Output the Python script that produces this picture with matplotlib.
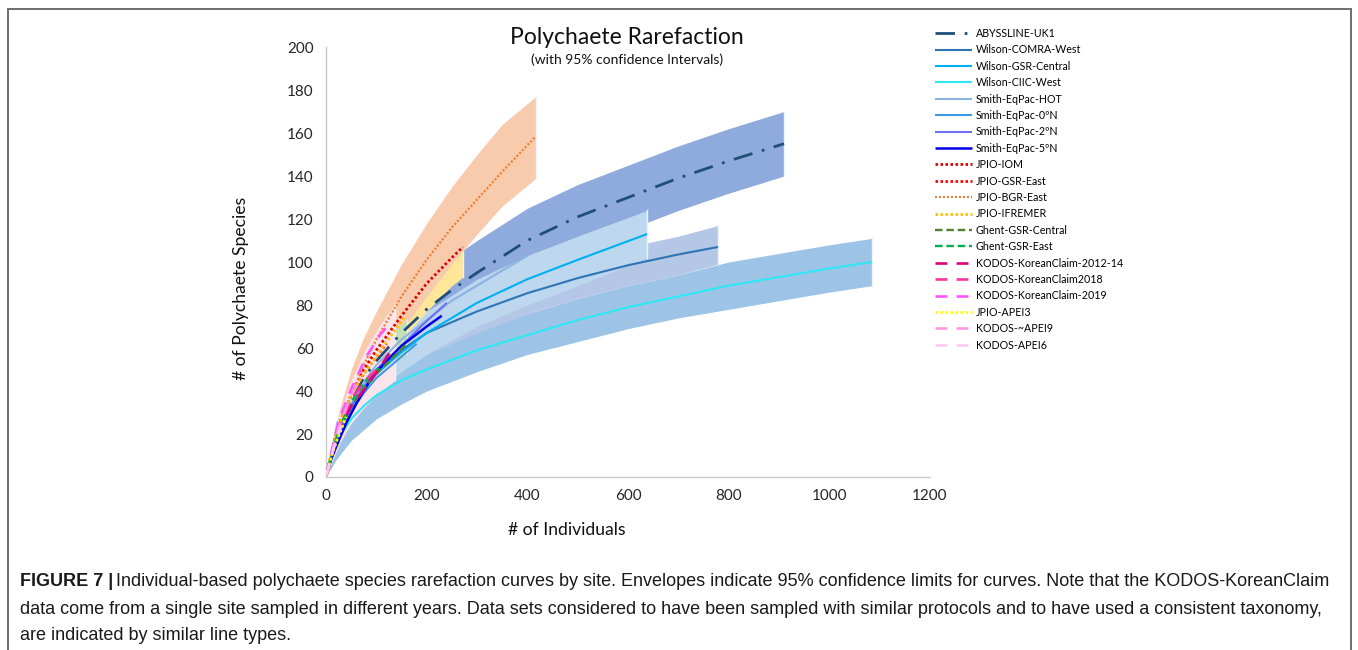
import matplotlib
matplotlib.use("Agg")
import matplotlib.pyplot as plt
from matplotlib.patches import Rectangle

# ---- data (individuals vs expected species) ----
abyss_x = [1, 10, 25, 50, 75, 100, 150, 200, 250, 300, 400, 500, 600, 700, 800, 910]
abyss_y = [1, 9, 21, 35, 46, 54, 67, 78, 87, 95, 110, 121, 130, 139, 147, 155]

comra_x = [1, 10, 25, 50, 75, 100, 150, 200, 300, 400, 500, 600, 700, 779]
comra_y = [1, 9, 20, 32, 41, 48, 59, 67, 77, 85.5, 92.5, 98.5, 103.5, 107]

gsrc_x = [1, 10, 25, 50, 75, 100, 150, 200, 300, 400, 500, 638]
gsrc_y = [1, 9, 20, 32, 41, 48, 58, 67, 81, 92, 101, 113]

ciic_x = [1, 10, 25, 50, 75, 100, 150, 200, 300, 400, 500, 600, 700, 800, 900, 1000, 1085]
ciic_y = [1, 8, 18, 27, 33, 38, 45, 50, 59, 66, 73, 79, 84, 89, 93, 97, 100]

hot_x = [1, 10, 25, 50, 75, 100, 150, 200, 250, 300, 350, 401]
hot_y = [1, 9, 21, 34, 44, 52, 64, 73, 82, 89, 96, 103]

n0_x = [1, 10, 25, 50, 75, 100, 150, 180]
n0_y = [1, 8, 19, 31, 39, 46, 56, 62]

n2_x = [1, 10, 25, 50, 75, 100, 150, 193, 240]
n2_y = [1, 9, 20, 33, 42, 50, 61, 71, 81]

n5_x = [1, 10, 20, 40, 60, 80, 100, 150, 200, 230]
n5_y = [1, 8, 14, 25, 34, 42, 49, 61, 70, 75]

iom_x = [1, 10, 25, 50, 75, 100, 150, 200, 250, 272]
iom_y = [1, 10, 24, 38, 50, 59, 75, 90, 102, 107]

gsre_x = [1, 10, 25, 50, 75, 100, 120]
gsre_y = [1, 10, 24, 38, 48, 56, 62]

bgr_x = [1, 10, 25, 50, 75, 100, 150, 200, 250, 300, 350, 415]
bgr_y = [1, 10, 22, 38, 52, 64, 84, 101, 116, 129, 142, 158]

ifremer_x = [1, 10, 25, 50, 75, 100, 130, 155]
ifremer_y = [1, 10, 24, 38, 48, 56, 66, 74]

ghentc_x = [1, 10, 25, 50, 75, 100, 130, 161]
ghentc_y = [1, 9, 21, 33, 41, 48, 55, 62]

ghente_x = [1, 10, 25, 50, 80, 110]
ghente_y = [1, 9, 22, 35, 45, 52]

kc1214_x = [1, 10, 25, 50, 81, 107, 127]
kc1214_y = [1, 10, 22, 33, 42, 51, 58]

kc2018_x = [1, 10, 25, 50, 75, 100]
kc2018_y = [1, 10, 23, 36, 44, 50]

kc2019_x = [1, 10, 25, 50, 80, 107, 125]
kc2019_y = [1, 11, 26, 41, 56, 66, 71]

apei3_x = [1, 10, 20, 40]
apei3_y = [1, 9, 16, 28]

apei9_x = [1, 10, 25, 45, 60]
apei9_y = [1, 10, 23, 35, 43]

apei6_x = [1, 8, 15, 30]
apei6_y = [1, 7, 13, 24]

# ---- 95% envelopes ----
ciic_env_x = [1, 10, 20, 50, 100, 150, 200, 300, 400, 500, 600, 700, 800, 900, 1000, 1085]
ciic_env_lo = [1, 4, 8, 17, 27, 34, 40, 49, 57, 63, 69, 74, 78, 82, 86, 89]
ciic_env_hi = [1, 14, 26, 37, 49, 56, 61, 69, 76, 83, 89, 94, 100, 104, 108, 111]

comra_env_x = [1, 50, 100, 150, 200, 300, 400, 500, 600, 700, 779]
comra_env_lo = [1, 27, 40, 50, 57, 67, 76, 83, 89, 94, 99]
comra_env_hi = [1, 38, 55, 66, 75, 86, 94, 101, 107, 112, 117]

abyss_env_x = [1, 50, 100, 150, 200, 250, 300, 400, 500, 600, 700, 800, 910]
abyss_env_lo = [1, 28, 44, 56, 65, 74, 81, 95, 106, 115, 124, 132, 140]
abyss_env_hi = [1, 44, 64, 80, 93, 102, 110, 125, 136, 145, 154, 162, 170]

gsrc_env_x = [1, 50, 100, 150, 200, 300, 400, 500, 638]
gsrc_env_lo = [1, 27, 40, 49, 57, 70, 80, 89, 102]
gsrc_env_hi = [1, 38, 56, 67, 77, 92, 103, 112, 124]

iom_env_x = [1, 50, 100, 150, 200, 250, 272]
iom_env_lo = [1, 33, 50, 64, 77, 89, 93]
iom_env_hi = [1, 45, 68, 85, 101, 115, 121]

bgr_env_x = [1, 10, 25, 50, 75, 100, 150, 200, 250, 300, 350, 417]
bgr_env_lo = [0, 6, 15, 28, 40, 50, 68, 84, 99, 113, 126, 139]
bgr_env_hi = [2, 14, 30, 50, 65, 77, 99, 118, 135, 150, 164, 177]

ghent_env_x = [1, 50, 100, 130, 160]
ghent_env_lo = [1, 32, 46, 52, 57]
ghent_env_hi = [1, 42, 60, 67, 73]

kodos_env_x = [1, 25, 50, 75, 100, 137]
kodos_env_lo = [1, 15, 25, 32, 38, 45]
kodos_env_hi = [2, 28, 45, 58, 68, 81]

x_ticks = [0, 200, 400, 600, 800, 1000, 1200]
y_ticks = [0, 20, 40, 60, 80, 100, 120, 140, 160, 180, 200]

CAPTION = [
    "Individual-based polychaete species rarefaction curves by site. Envelopes indicate 95% confidence limits for curves. Note that the KODOS-KoreanClaim",
    "data come from a single site sampled in different years. Data sets considered to have been sampled with similar protocols and to have used a consistent taxonomy,",
    "are indicated by similar line types.",
]

DOT = (0, (0.9, 0.9))
DASH = (0, (3.2, 1.6))
LONG = (0, (4.5, 3.5))
DASHDOT = (0, (7, 3.5, 1, 3.5))

envelopes = [
    (ciic_env_x, ciic_env_lo, ciic_env_hi, "#9dc3e6"),
    (comra_env_x, comra_env_lo, comra_env_hi, "#b4c7e7"),
    (abyss_env_x, abyss_env_lo, abyss_env_hi, "#8faadc"),
    (gsrc_env_x, gsrc_env_lo, gsrc_env_hi, "#bdd7ee"),
    (iom_env_x, iom_env_lo, iom_env_hi, "#ffe699"),
    (bgr_env_x, bgr_env_lo, bgr_env_hi, "#f8cbad"),
    (ghent_env_x, ghent_env_lo, ghent_env_hi, "#c5e0b4"),
    (kodos_env_x, kodos_env_lo, kodos_env_hi, "#fbe4ea"),
]

series = [
    ("ABYSSLINE-UK1", abyss_x, abyss_y, "#1f4e79", DASHDOT, 2.0),
    ("Wilson-COMRA-West", comra_x, comra_y, "#2e75b6", "-", 1.5),
    ("Wilson-GSR-Central", gsrc_x, gsrc_y, "#00b0f0", "-", 1.5),
    ("Wilson-CIIC-West", ciic_x, ciic_y, "#2de8f2", "-", 1.5),
    ("Smith-EqPac-HOT", hot_x, hot_y, "#8db3e2", "-", 1.5),
    ("Smith-EqPac-0ºN", n0_x, n0_y, "#3b9ae8", "-", 1.5),
    ("Smith-EqPac-2ºN", n2_x, n2_y, "#6f6ff0", "-", 1.5),
    ("Smith-EqPac-5ºN", n5_x, n5_y, "#0000e8", "-", 1.8),
    ("JPIO-IOM", iom_x, iom_y, "#e00000", DOT, 2.0),
    ("JPIO-GSR-East", gsre_x, gsre_y, "#ff0000", DOT, 2.0),
    ("JPIO-BGR-East", bgr_x, bgr_y, "#ed7d31", DOT, 1.6),
    ("JPIO-IFREMER", ifremer_x, ifremer_y, "#ffc000", DOT, 2.0),
    ("Ghent-GSR-Central", ghentc_x, ghentc_y, "#548235", DASH, 1.7),
    ("Ghent-GSR-East", ghente_x, ghente_y, "#00b050", DASH, 1.7),
    ("KODOS-KoreanClaim-2012-14", kc1214_x, kc1214_y, "#e0007a", LONG, 1.9),
    ("KODOS-KoreanClaim2018", kc2018_x, kc2018_y, "#ff3399", LONG, 1.9),
    ("KODOS-KoreanClaim-2019", kc2019_x, kc2019_y, "#ff55ff", LONG, 1.9),
    ("JPIO-APEI3", apei3_x, apei3_y, "#ffff00", DOT, 2.0),
    ("KODOS-~APEI9", apei9_x, apei9_y, "#ff99dd", LONG, 1.9),
    ("KODOS-APEI6", apei6_x, apei6_y, "#ffccee", LONG, 1.9),
]

plt.rcParams["font.family"] = ["Lato", "DejaVu Sans"]

fig = plt.figure(figsize=(13.58, 6.5), dpi=100)
ax = fig.add_axes([326 / 1358, 173 / 650, 604 / 1358, 430 / 650])

for ex, lo, hi, col in envelopes:
    ax.fill_between(ex, lo, hi, color=col, lw=0, zorder=1)
    # pale end bar, drawn in the same layer so later envelopes cover it
    ax.plot([ex[-1], ex[-1]], [lo[-1], hi[-1]], color="#eef3fa", lw=1.0, zorder=1)

handles = []
for name, sx, sy, col, ls, lw in series:
    (h,) = ax.plot(sx, sy, color=col, ls=ls, lw=lw, label=name, zorder=3,
                   solid_capstyle="butt", dash_capstyle="butt")
    handles.append(h)

ax.set_xlim(0, 1200)
ax.set_ylim(0, 200)
ax.set_xticks(x_ticks)
ax.set_yticks(y_ticks)
ax.tick_params(length=0, labelsize=11, colors="#262626", pad=9)
for side in ("top", "right"):
    ax.spines[side].set_visible(False)
for side in ("left", "bottom"):
    ax.spines[side].set_color("#c8c8c8")
    ax.spines[side].set_linewidth(1.0)

# axis titles sit off-centre in the original
ax.text((567 - 326) / 604, (477 - 530) / 430, "# of Individuals", transform=ax.transAxes,
        ha="center", va="center", fontsize=12.6, color="#111111")
ax.text((241 - 326) / 604, (477 - 288) / 430, "# of Polychaete Species", transform=ax.transAxes,
        ha="center", va="center", rotation=90, fontsize=12.6, color="#111111")

fig.text(627 / 1358, 1 - 37 / 650, "Polychaete Rarefaction", ha="center", va="center",
         fontsize=16.5, color="#111111")
fig.text(627 / 1358, 1 - 60 / 650, "(with 95% confidence Intervals)", ha="center", va="center",
         fontsize=10, color="#111111")

fig.legend(handles=handles, loc="upper left", bbox_to_anchor=(935 / 1358, 1 - 28 / 650),
           frameon=False, fontsize=7.7, handlelength=3.5, handletextpad=0.3,
           labelspacing=0.505, borderaxespad=0, borderpad=0)

# frame around the figure panel
fig.patches.append(Rectangle((8 / 1358, -0.05), 1343 / 1358, 1.05 - 9 / 650,
                             transform=fig.transFigure, fill=False,
                             edgecolor="#6e6e6e", lw=1.4))

# caption with bold lead
fig.canvas.draw()
renderer = fig.canvas.get_renderer()
lead = fig.text(20 / 1358, 1 - 582 / 650, "FIGURE 7 |", fontsize=13, fontweight="bold",
                family="Liberation Sans", va="center", color="#1a1a1a")
bb = lead.get_window_extent(renderer)
fig.text((bb.x1 + 3) / 1358, 1 - 582 / 650, CAPTION[0], fontsize=13,
         family="Liberation Sans", va="center", color="#1a1a1a")
for i, line in enumerate(CAPTION[1:]):
    fig.text(20 / 1358, 1 - (609 + 27 * i) / 650, line, fontsize=13,
             family="Liberation Sans", va="center", color="#1a1a1a")

fig.savefig("out.png", dpi=100)
